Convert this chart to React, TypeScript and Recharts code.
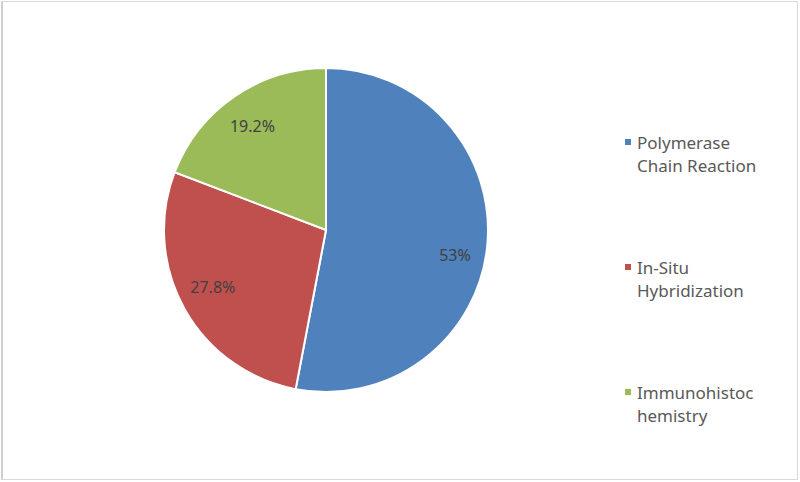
import React from "react";
import { PieChart, Pie, Cell, Legend } from "recharts";

const categories = ["Polymerase Chain Reaction", "In-Situ Hybridization", "Immunohistochemistry"];
const shares = [53, 27.8, 19.2];
const legendLines = [
  ["Polymerase", "Chain Reaction"],
  ["In-Situ", "Hybridization"],
  ["Immunohistoc", "hemistry"],
];
const colors = ["#4f81bd", "#c0504d", "#9bbb59"];

const data = categories.map((name, i) => ({ name, value: shares[i] }));

const FONT = "'Noto Sans', 'Open Sans', sans-serif";
const labelNudgeY = [13, -6, 3];

const RAD = Math.PI / 180;
const renderLabel = (props: any) => {
  const { cx, cy, midAngle, outerRadius, index, value } = props;
  const r = outerRadius * 0.8;
  const x = cx + r * Math.cos(-midAngle * RAD);
  const y = cy + r * Math.sin(-midAngle * RAD) + labelNudgeY[index];
  return (
    <text
      x={x}
      y={y}
      textAnchor="middle"
      dominantBaseline="central"
      fill="#404040"
      fontSize={16}
      fontFamily={FONT}
    >
      {`${value}%`}
    </text>
  );
};

const renderLegend = (props: any) => {
  const { payload } = props;
  return (
    <div style={{ fontFamily: FONT, fontSize: 17, lineHeight: "23px", color: "#595959" }}>
      {(payload || []).map((entry: any, i: number) => (
        <div key={i} style={{ position: "relative", height: 125, paddingLeft: 15 }}>
          <span
            style={{
              position: "absolute",
              left: 3,
              top: 8,
              width: 6,
              height: 6,
              background: colors[i],
            }}
          />
          {legendLines[i].map((ln, j) => (
            <div key={j} style={{ whiteSpace: "nowrap" }}>{ln}</div>
          ))}
        </div>
      ))}
    </div>
  );
};

export default function App() {
  return (
    <div style={{ position: "absolute", left: 0, top: 0, width: 800, height: 482, background: "#ffffff" }}>
      <div
        style={{
          position: "absolute",
          left: 1,
          top: 1,
          width: 794,
          height: 477,
          border: "1px solid #d9d9d9",
          borderLeft: "2px solid #d0d0d0",
        }}
      />
      <PieChart
        width={800}
        height={482}
        margin={{ top: 0, right: 0, bottom: 0, left: 0 }}
        style={{ position: "absolute", left: 0, top: 0 }}
      >
        <Pie
          data={data}
          dataKey="value"
          nameKey="name"
          cx={326}
          cy={230}
          outerRadius={162}
          startAngle={90}
          endAngle={-270}
          stroke="#ffffff"
          strokeWidth={2}
          label={renderLabel}
          labelLine={false}
          isAnimationActive={false}
        >
          {data.map((d, i) => (
            <Cell key={d.name} fill={colors[i]} />
          ))}
        </Pie>
        <Legend
          layout="vertical"
          content={renderLegend}
          wrapperStyle={{ left: 622, top: 131, width: 170 }}
        />
      </PieChart>
    </div>
  );
}
